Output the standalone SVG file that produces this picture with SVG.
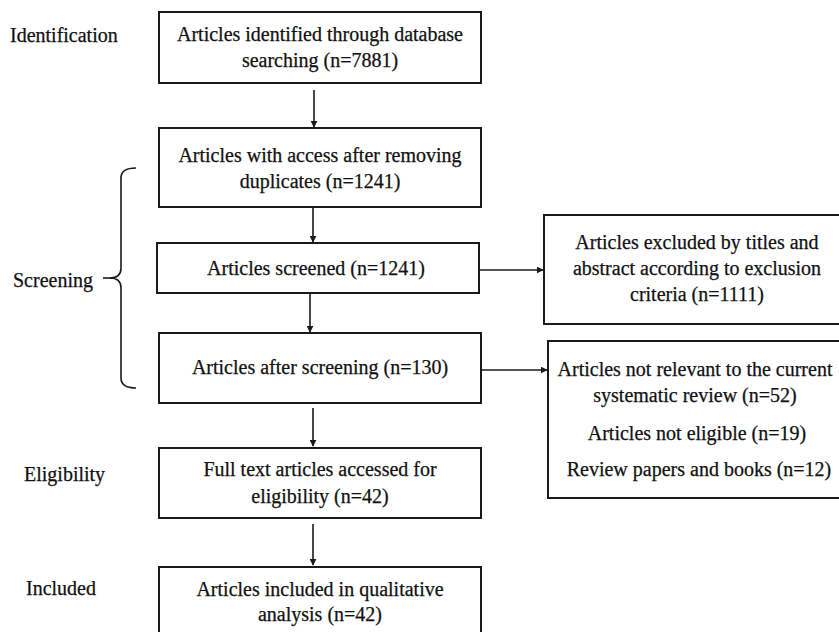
<svg xmlns="http://www.w3.org/2000/svg" width="839" height="632" viewBox="0 0 839 632">
<defs>
<style>
.box{fill:#fff;stroke:#1a1a1a;stroke-width:2}
.t{font-family:"Liberation Serif","Times New Roman",serif;font-size:20px;fill:#111;text-anchor:middle;stroke:#111;stroke-width:0.25}
.l{font-family:"Liberation Serif","Times New Roman",serif;font-size:20px;fill:#111;stroke:#111;stroke-width:0.25}
.c{stroke:#1a1a1a;stroke-width:1.6;fill:none}
</style>
<marker id="ah" viewBox="0 0 10 10" refX="9" refY="5" markerWidth="7" markerHeight="7" markerUnits="userSpaceOnUse" orient="auto">
<path d="M0,0 L10,5 L0,10 Z" fill="#1a1a1a"/>
</marker>
</defs>
<rect width="839" height="632" fill="#fff"/>
<g id="stage-labels">
<text class="l" x="10" y="42">Identification</text>
<text class="l" x="13" y="287">Screening</text>
<text class="l" x="24" y="481">Eligibility</text>
<text class="l" x="26" y="595">Included</text>
</g>
<g id="brace">
<path class="c" d="M136,168 Q121,168 121,178 L121,268 Q121,278 110,278 Q121,278 121,288 L121,378 Q121,388 136,388"/>
<path class="c" d="M103,278 L112,278"/>
</g>
<g id="n1"><rect class="box" x="159" y="12" width="322" height="71"/>
<text class="t" x="320" y="41">Articles identified through database</text>
<text class="t" x="320" y="67">searching (n=7881)</text></g>
<g id="n2"><rect class="box" x="159" y="128" width="322" height="79"/>
<text class="t" x="320" y="162">Articles with access after removing</text>
<text class="t" x="320" y="188">duplicates (n=1241)</text></g>
<g id="n3"><rect class="box" x="157" y="243" width="322" height="50"/>
<text class="t" x="316" y="275">Articles screened (n=1241)</text></g>
<g id="n4"><rect class="box" x="159" y="333" width="322" height="70"/>
<text class="t" x="320" y="374">Articles after screening (n=130)</text></g>
<g id="n5"><rect class="box" x="159" y="448" width="322" height="70"/>
<text class="t" x="320" y="476">Full text articles accessed for</text>
<text class="t" x="320" y="503">eligibility (n=42)</text></g>
<g id="n6"><rect class="box" x="159" y="567" width="322" height="80"/>
<text class="t" x="320" y="596">Articles included in qualitative</text>
<text class="t" x="320" y="621">analysis (n=42)</text></g>
<g id="n7"><rect class="box" x="544" y="215" width="320" height="109"/>
<text class="t" x="697" y="249">Articles excluded by titles and</text>
<text class="t" x="697" y="275">abstract according to exclusion</text>
<text class="t" x="697" y="301">criteria (n=1111)</text></g>
<g id="n8"><rect class="box" x="548" y="341" width="320" height="157"/>
<text class="t" x="695" y="376">Articles not relevant to the current</text>
<text class="t" x="695" y="402">systematic review (n=52)</text>
<text class="t" x="697" y="440">Articles not eligible (n=19)</text>
<text class="t" x="699" y="476">Review papers and books (n=12)</text></g>
<g id="connectors">
<path class="c" d="M314,90 L314,127" marker-end="url(#ah)"/>
<path class="c" d="M313,208 L313,242" marker-end="url(#ah)"/>
<path class="c" d="M310,294 L310,332" marker-end="url(#ah)"/>
<path class="c" d="M313,408 L313,446" marker-end="url(#ah)"/>
<path class="c" d="M313,524 L313,565" marker-end="url(#ah)"/>
<path class="c" d="M479,270 L543,270" marker-end="url(#ah)"/>
<path class="c" d="M481,370 L547,370" marker-end="url(#ah)"/>
</g>
</svg>
